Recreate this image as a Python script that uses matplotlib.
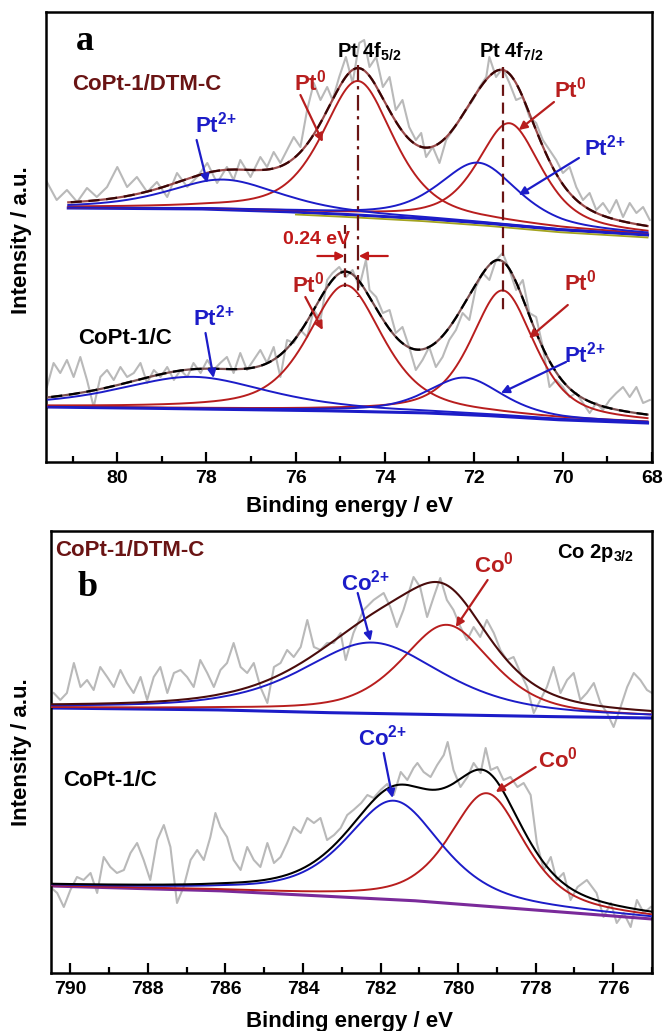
import numpy as np
import matplotlib
matplotlib.use("Agg")
import matplotlib.pyplot as plt
from matplotlib.ticker import MultipleLocator

plt.rcParams['font.family'] = ['Liberation Sans', 'DejaVu Sans']
plt.rcParams['font.weight'] = 'bold'
plt.rcParams['mathtext.fontset'] = 'custom'
plt.rcParams['mathtext.rm'] = 'Liberation Sans:bold'
plt.rcParams['mathtext.bf'] = 'Liberation Sans:bold'
plt.rcParams['mathtext.it'] = 'Liberation Sans:bold'
plt.rcParams['mathtext.default'] = 'rm'

# ================= DATA =================
# ---- Panel a : Pt 4f ----
pt_tick_labels = [80, 78, 76, 74, 72, 70, 68]

# raw spectrum CoPt-1/DTM-C (upper)
pt_up_raw_x = [81.58, 81.36, 81.13, 80.9, 80.68, 80.46, 80.23, 80.0, 79.78, 79.56, 79.33, 79.11, 78.88,
               78.66, 78.43, 78.21, 77.98, 77.76, 77.54, 77.39, 77.24, 77.01, 76.79, 76.64, 76.49, 76.34,
               76.19, 76.04, 75.89, 75.74, 75.59, 75.44, 75.29, 75.17, 75.02, 74.87, 74.72, 74.57, 74.46,
               74.34, 74.19, 74.04, 73.89, 73.75, 73.6, 73.45, 73.3, 73.18, 73.07, 72.92, 72.77, 72.62,
               72.47, 72.32, 72.17, 72.02, 71.87, 71.72, 71.65, 71.5, 71.35, 71.2, 71.05, 70.9, 70.75,
               70.6, 70.45, 70.3, 70.15, 70.0, 69.85, 69.7, 69.55, 69.4, 69.25, 69.1, 68.95, 68.8, 68.65,
               68.5, 68.35, 68.2, 68.05]
pt_up_raw_y = [280, 262, 272, 260, 274, 265, 275, 295, 275, 285, 270, 280, 265,
               289, 275, 285, 299, 279, 295, 282, 302, 285, 305, 295, 310, 299,
               312, 325, 315, 352, 379, 362, 375, 362, 385, 405, 379, 419, 422,
               395, 405, 375, 385, 352, 362, 335, 322, 329, 305, 315, 299, 322,
               332, 342, 352, 362, 375, 385, 405, 385, 394, 379, 362, 365, 345,
               339, 322, 312, 302, 289, 295, 275, 262, 269, 252, 259, 249, 262, 245,
               259, 249, 255, 242]
pt_up_base_x = [68.1, 70.0, 71.5, 73.0, 74.6, 76.0, 78.0, 81.1]
pt_up_base_y = [227, 232, 238, 243, 247, 250, 253, 254]
pt_up_center = [74.6, 71.2, 77.6, 71.9]
pt_up_height = [134, 102, 30, 60]
pt_up_fwhm = [1.9, 1.7, 3.0, 2.1]
pt_up_kind = ['Pt0', 'Pt0', 'Pt2+', 'Pt2+']

# raw spectrum CoPt-1/C (lower)
pt_lo_raw_x = [81.58, 81.43, 81.28, 81.13, 80.98, 80.83, 80.68, 80.53, 80.38, 80.23, 80.08, 79.93, 79.78,
               79.63, 79.48, 79.33, 79.18, 79.03, 78.88, 78.73, 78.58, 78.43, 78.29, 78.13, 77.98, 77.84,
               77.69, 77.54, 77.39, 77.24, 77.09, 76.94, 76.79, 76.64, 76.49, 76.34, 76.19, 76.04, 75.89,
               75.74, 75.59, 75.44, 75.29, 75.17, 75.02, 74.87, 74.72, 74.57, 74.42, 74.34, 74.19, 74.04,
               73.89, 73.75, 73.6, 73.45, 73.3, 73.15, 73.0, 72.85, 72.7, 72.55, 72.4, 72.25, 72.1, 71.95,
               71.8, 71.65, 71.5, 71.35, 71.2, 71.05, 70.9, 70.75, 70.6, 70.45, 70.3, 70.15, 70.0, 69.85,
               69.7, 69.55, 69.4, 69.25, 69.1, 68.95, 68.8, 68.65, 68.5, 68.35, 68.2, 68.05]
pt_lo_raw_y = [75, 99, 89, 102, 85, 105, 82, 55, 85, 92, 82, 95, 85,
               89, 99, 79, 92, 85, 95, 82, 92, 85, 99, 89, 102, 92,
               99, 105, 89, 109, 92, 102, 112, 99, 115, 85, 122, 119, 132,
               125, 152, 142, 182, 189, 195, 185, 192, 175, 202, 172, 165, 149,
               152, 129, 135, 115, 92, 102, 115, 95, 105, 122, 132, 149, 142, 175,
               189, 182, 202, 209, 192, 172, 182, 149, 145, 115, 75, 82, 75, 65,
               69, 59, 49, 59, 52, 62, 69, 75, 65, 75, 59, 62]
pt_lo_base_x = [68.1, 70.0, 71.5, 73.0, 75.0, 78.0, 81.6]
pt_lo_base_y = [39, 42, 46, 49, 51, 53, 55]
pt_lo_center = [74.88, 71.35, 78.3, 72.2]
pt_lo_height = [126, 126, 32, 37]
pt_lo_fwhm = [2.0, 1.7, 4.0, 2.0]
pt_lo_kind = ['Pt0', 'Pt0', 'Pt2+', 'Pt2+']

# ---- Panel b : Co 2p3/2 ----
co_tick_labels = [790, 788, 786, 784, 782, 780, 778, 776]

co_up_raw_x = [790.43, 790.26, 790.09, 789.91, 789.74, 789.57, 789.4, 789.23, 789.05, 788.88, 788.71,
               788.54, 788.37, 788.19, 788.02, 787.85, 787.68, 787.5, 787.33, 787.16, 786.99, 786.82,
               786.65, 786.47, 786.3, 786.13, 785.96, 785.79, 785.61, 785.44, 785.27, 785.1, 784.92,
               784.75, 784.58, 784.41, 784.24, 784.06, 783.89, 783.72, 783.55, 783.38, 783.21, 783.03,
               782.9, 782.7, 782.44, 782.18, 781.92, 781.75, 781.58, 781.41, 781.15, 780.98, 780.8,
               780.63, 780.46, 780.29, 780.12, 779.94, 779.77, 779.6, 779.43, 779.26, 779.08, 778.91,
               778.74, 778.57, 778.39, 778.22, 778.05, 777.88, 777.71, 777.54, 777.36, 777.19, 777.02,
               776.85, 776.68, 776.5, 776.33, 776.16, 775.99, 775.81, 775.64, 775.47, 775.3, 775.13, 775.0]
co_up_raw_y = [280, 273, 280, 310, 286, 293, 283, 306, 296, 286, 303,
               290, 280, 296, 273, 296, 306, 280, 300, 303, 296, 286,
               313, 300, 286, 303, 310, 330, 306, 300, 310, 286, 270,
               306, 310, 323, 316, 326, 353, 326, 323, 330, 330, 340,
               313, 340, 363, 373, 380, 366, 346, 363, 396, 386, 356,
               376, 395, 373, 363, 346, 333, 346, 336, 353, 340, 323,
               313, 316, 300, 286, 260, 273, 286, 306, 280, 293, 300,
               273, 280, 290, 270, 260, 246, 266, 286, 300, 293, 283, 280]
co_up_base_x = [775.0, 777.0, 780.0, 783.0, 786.0, 790.5]
co_up_base_y = [255, 256, 258, 260, 263, 265]
co_up_center = [780.3, 782.23]
co_up_height = [90, 71]
co_up_fwhm = [2.8, 4.3]
co_up_kind = ['Co0', 'Co2+']

co_lo_raw_x = [790.52, 790.34, 790.17, 790.0, 789.83, 789.66, 789.48, 789.31, 789.14, 788.97, 788.8,
               788.62, 788.45, 788.28, 788.11, 787.94, 787.76, 787.59, 787.42, 787.25, 787.08, 786.9,
               786.73, 786.56, 786.39, 786.26, 786.13, 785.96, 785.79, 785.61, 785.44, 785.27, 785.1,
               784.92, 784.75, 784.58, 784.41, 784.24, 784.06, 783.89, 783.72, 783.55, 783.38, 783.2,
               783.03, 782.86, 782.7, 782.5, 782.34, 782.18, 782.0, 781.83, 781.66, 781.48, 781.31,
               781.15, 781.05, 780.89, 780.71, 780.54, 780.37, 780.27, 780.12, 779.94, 779.76, 779.6,
               779.42, 779.29, 779.16, 778.99, 778.83, 778.65, 778.47, 778.31, 778.13, 777.97, 777.79,
               777.61, 777.46, 777.28, 777.1, 776.92, 776.68, 776.43, 776.25, 776.06, 775.91, 775.73,
               775.55, 775.39, 775.21, 775.03]
co_lo_raw_y = [86, 80, 66, 83, 96, 93, 100, 80, 116, 106, 100,
               103, 120, 130, 113, 93, 133, 148, 126, 70, 86, 113,
               123, 113, 136, 160, 146, 136, 113, 103, 126, 113, 106,
               130, 110, 116, 130, 146, 140, 155, 150, 155, 133, 138,
               145, 158, 163, 170, 178, 175, 183, 189, 178, 201, 193,
               205, 210, 201, 196, 208, 218, 231, 203, 186, 196, 210,
               200, 225, 203, 206, 193, 196, 186, 190, 178, 130, 103,
               116, 93, 100, 73, 86, 93, 80, 56, 70, 50, 60,
               46, 73, 60, 66]
co_lo_base_x = [775.0, 777.0, 779.0, 781.0, 783.0, 786.0, 790.5]
co_lo_base_y = [54, 60, 66, 72, 76, 82, 87]
co_lo_center = [779.26, 781.66]
co_lo_height = [113, 99]
co_lo_fwhm = [2.3, 2.9]
co_lo_kind = ['Co0', 'Co2+']

# ================= STYLE =================
RED = '#b81e1e'
BLUE = '#1c1cc8'
DARKRED = '#6a1414'
GRAY = '#b9b9b9'
kind_color = {'Pt0': RED, 'Pt2+': BLUE, 'Co0': RED, 'Co2+': BLUE}
SUP0 = r'$^{0}$'
SUP2 = r'$^{2\!+}$'


def pvoigt(x, c, h, fwhm, eta=0.6):
    u = (x - c) / (fwhm / 2.0)
    return h * (eta / (1 + u ** 2) + (1 - eta) * np.exp(-np.log(2) * u ** 2))


def draw_spectrum(ax, raw_x, raw_y, bx, by, centers, heights, fwhms, kinds, xr,
                  env_color, env_dash=None, env_under=None, base_color=BLUE, extra_base=None):
    ax.plot(raw_x, raw_y, color=GRAY, lw=1.5, zorder=1)
    x = np.linspace(xr[0], xr[1], 800)
    base = np.interp(x, bx, by)
    total = base.copy()
    for c, h, w, k in zip(centers, heights, fwhms, kinds):
        comp = pvoigt(x, c, h, w)
        total = total + comp
        ax.plot(x, base + comp, color=kind_color[k], lw=1.4, zorder=3)
    ax.plot(x, base, color=base_color, lw=2.2, zorder=2)
    if extra_base is not None:
        col, lo, off = extra_base
        m = x <= lo
        ax.plot(x[m], base[m] - off, color=col, lw=1.3, zorder=2)
    if env_dash is None:
        ax.plot(x, total, color=env_color, lw=1.5, zorder=4)
    else:
        ax.plot(x, total, color=env_under, lw=1.6, zorder=4)
        ax.plot(x, total, color=env_color, lw=1.6, dashes=env_dash, zorder=4)


def arrow(ax, tail, head, color):
    ax.annotate('', xy=head, xytext=tail,
                arrowprops=dict(arrowstyle='-|>', color=color, lw=1.6, mutation_scale=12,
                                shrinkA=0, shrinkB=0), zorder=6)


def style_axis(ax, xlim, ylim, ticks):
    ax.set_xlim(*xlim)
    ax.set_ylim(*ylim)
    ax.set_yticks([])
    ax.set_xticks(ticks)
    ax.set_xticklabels([str(t) for t in ticks])
    ax.xaxis.set_minor_locator(MultipleLocator(1))
    ax.tick_params(axis='x', which='major', direction='in', length=7, width=1.6, labelsize=14, pad=6)
    ax.tick_params(axis='x', which='minor', direction='in', length=4, width=1.6)
    for sp in ax.spines.values():
        sp.set_linewidth(1.8)


fig = plt.figure(figsize=(6.66, 10.31), dpi=100)
axA = fig.add_axes([46 / 666, 1 - 462 / 1031, (652 - 46) / 666, 450 / 1031])
axB = fig.add_axes([51 / 666, 1 - 973 / 1031, (652 - 51) / 666, 442 / 1031])

# ---------------- Panel a ----------------
draw_spectrum(axA, pt_up_raw_x, pt_up_raw_y, pt_up_base_x, pt_up_base_y, pt_up_center, pt_up_height,
              pt_up_fwhm, pt_up_kind, (68.1, 81.1), env_color='#3a0606', env_dash=(5, 3),
              env_under='#9a4a4a', extra_base=('#a3a31e', 76.0, 2.5))
draw_spectrum(axA, pt_lo_raw_x, pt_lo_raw_y, pt_lo_base_x, pt_lo_base_y, pt_lo_center, pt_lo_height,
              pt_lo_fwhm, pt_lo_kind, (68.1, 81.55), env_color='#000000', env_dash=(5, 3),
              env_under='#7a5050')
style_axis(axA, (81.6, 68.0), (0, 450), pt_tick_labels)

# vertical guide lines
axA.plot([74.6, 74.6], [397, 165], color=DARKRED, lw=1.6, dashes=(7, 2.5, 1.5, 2.5), zorder=5)
axA.plot([74.88, 74.88], [237, 175], color=DARKRED, lw=1.6, dashes=(4, 2.5), zorder=5)
axA.plot([71.35, 71.35], [395, 152], color=DARKRED, lw=1.6, dashes=(5, 3), zorder=5)

fs_lab = 16
axA.text(80.72, 420, 'a', family=['Liberation Serif'], fontsize=26, fontweight='bold',
         ha='center', va='center', zorder=6)
axA.text(81.01, 377, 'CoPt-1/DTM-C', color=DARKRED, fontsize=fs_lab, ha='left', va='center', zorder=6)
axA.text(80.88, 124, 'CoPt-1/C', color='black', fontsize=fs_lab, ha='left', va='center', zorder=6)
axA.text(75.08, 410, r'Pt 4f$_{5/2}$', color='black', fontsize=14.5, ha='left', va='center', zorder=6)
axA.text(71.89, 410, r'Pt 4f$_{7/2}$', color='black', fontsize=14.5, ha='left', va='center', zorder=6)

# upper spectrum labels
axA.text(76.04, 379, 'Pt' + SUP0, color=RED, fontsize=fs_lab, ha='left', va='center', zorder=6)
arrow(axA, (75.89, 367), (75.39, 320), RED)
axA.text(78.25, 337, 'Pt' + SUP2, color=BLUE, fontsize=fs_lab, ha='left', va='center', zorder=6)
arrow(axA, (78.22, 322), (77.98, 279), BLUE)
axA.text(70.2, 372, 'Pt' + SUP0, color=RED, fontsize=fs_lab, ha='left', va='center', zorder=6)
arrow(axA, (70.2, 360), (70.99, 332), RED)
axA.text(69.53, 314, 'Pt' + SUP2, color=BLUE, fontsize=fs_lab, ha='left', va='center', zorder=6)
arrow(axA, (69.64, 304), (70.99, 267), BLUE)

# lower spectrum labels
axA.text(76.07, 177, 'Pt' + SUP0, color=RED, fontsize=fs_lab, ha='left', va='center', zorder=6)
arrow(axA, (75.78, 165), (75.39, 132), RED)
axA.text(78.29, 144, 'Pt' + SUP2, color=BLUE, fontsize=fs_lab, ha='left', va='center', zorder=6)
arrow(axA, (78.02, 129), (77.84, 84), BLUE)
axA.text(69.98, 179, 'Pt' + SUP0, color=RED, fontsize=fs_lab, ha='left', va='center', zorder=6)
arrow(axA, (69.89, 157), (70.76, 124), RED)
axA.text(69.98, 107, 'Pt' + SUP2, color=BLUE, fontsize=fs_lab, ha='left', va='center', zorder=6)
arrow(axA, (69.93, 100), (71.39, 69), BLUE)

# 0.24 eV shift
axA.text(76.29, 222, '0.24 eV', color='#c01818', fontsize=14, ha='left', va='center', zorder=6)
arrow(axA, (75.51, 206), (74.9, 206), '#c01818')
arrow(axA, (73.93, 206), (74.58, 206), '#c01818')

# ---------------- Panel b ----------------
draw_spectrum(axB, co_up_raw_x, co_up_raw_y, co_up_base_x, co_up_base_y, co_up_center, co_up_height,
              co_up_fwhm, co_up_kind, (775.0, 790.5), env_color='#4a0c0c')
draw_spectrum(axB, co_lo_raw_x, co_lo_raw_y, co_lo_base_x, co_lo_base_y, co_lo_center, co_lo_height,
              co_lo_fwhm, co_lo_kind, (775.0, 790.5), env_color='#000000', base_color='#7a2a9a')
style_axis(axB, (790.5, 775.0), (0, 442), co_tick_labels)

axB.text(790.39, 423, 'CoPt-1/DTM-C', color=DARKRED, fontsize=fs_lab, ha='left', va='center', zorder=6)
axB.text(789.56, 386, 'b', family=['Liberation Serif'], fontsize=26, fontweight='bold',
         ha='center', va='center', zorder=6)
axB.text(777.46, 420, r'Co 2p$_{3/2}$', color='black', fontsize=14.5, ha='left', va='center', zorder=6)
axB.text(779.6, 408, 'Co' + SUP0, color=RED, fontsize=fs_lab, ha='left', va='center', zorder=6)
arrow(axB, (779.24, 393), (780.06, 346), RED)
axB.text(783.01, 390, 'Co' + SUP2, color=BLUE, fontsize=fs_lab, ha='left', va='center', zorder=6)
arrow(axB, (782.59, 380), (782.26, 332), BLUE)
axB.text(790.18, 193, 'CoPt-1/C', color='black', fontsize=fs_lab, ha='left', va='center', zorder=6)
axB.text(782.57, 235, 'Co' + SUP2, color=BLUE, fontsize=fs_lab, ha='left', va='center', zorder=6)
arrow(axB, (781.92, 220), (781.69, 175), BLUE)
axB.text(777.95, 213, 'Co' + SUP0, color=RED, fontsize=fs_lab, ha='left', va='center', zorder=6)
arrow(axB, (778.0, 206), (779.03, 181), RED)

# axis titles
fig.text(350 / 666, 1 - 507 / 1031, 'Binding energy / eV', fontsize=16, ha='center', va='center')
fig.text(350 / 666, 1 - 1021 / 1031, 'Binding energy / eV', fontsize=16, ha='center', va='center')
fig.text(22 / 666, 1 - 240 / 1031, 'Intensity / a.u.', fontsize=16, rotation=90, ha='center', va='center')
fig.text(22 / 666, 1 - 752 / 1031, 'Intensity / a.u.', fontsize=16, rotation=90, ha='center', va='center')

fig.savefig('out.png', dpi=100)
